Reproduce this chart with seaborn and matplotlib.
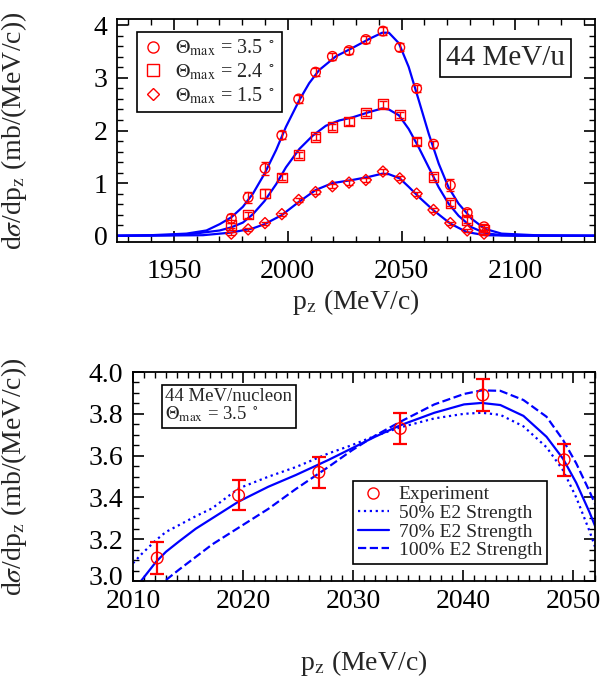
import numpy as np
import pandas as pd
import matplotlib
matplotlib.use("Agg")
import matplotlib.pyplot as plt
import matplotlib.transforms as mtransforms
from matplotlib.lines import Line2D
from matplotlib.ticker import MultipleLocator
import seaborn as sns

# ---------------- data: top panel ----------------
pz_data = [1975.2, 1982.6, 1990.0, 1997.4, 2004.8, 2012.2, 2019.6, 2026.9,
           2034.3, 2041.8, 2049.2, 2056.6, 2064.0, 2071.4, 2078.8, 2086.2]
sig_35 = [0.33, 0.73, 1.28, 1.91, 2.60, 3.11, 3.41, 3.52,
          3.73, 3.89, 3.58, 2.80, 1.74, 0.96, 0.44, 0.17]
err_35 = [0.08, 0.11, 0.13, 0.08, 0.07, 0.075, 0.072, 0.073,
          0.074, 0.078, 0.076, 0.06, 0.07, 0.11, 0.07, 0.06]
sig_24 = [0.20, 0.40, 0.80, 1.11, 1.53, 1.88, 2.07, 2.17,
          2.33, 2.50, 2.30, 1.79, 1.12, 0.62, 0.30, 0.12]
err_24 = [0.05, 0.06, 0.08, 0.06, 0.06, 0.06, 0.06, 0.06,
          0.06, 0.07, 0.06, 0.06, 0.06, 0.06, 0.05, 0.05]
sig_15 = [0.04, 0.12, 0.24, 0.41, 0.68, 0.83, 0.94, 1.01,
          1.06, 1.22, 1.09, 0.80, 0.49, 0.24, 0.10, 0.04]
err_15 = [0.03, 0.03, 0.03, 0.03, 0.04, 0.04, 0.04, 0.04,
          0.04, 0.04, 0.04, 0.04, 0.03, 0.03, 0.03, 0.03]

# theory curves
pz_c35 = [1925, 1940, 1955.5, 1964.3, 1970.1, 1975.2, 1980.3, 1984.7, 1989.8,
          1994.9, 1999.2, 2005.1, 2009.4, 2013.8, 2021.1, 2028.4, 2035.7,
          2041.5, 2044.4, 2048.8, 2053.1, 2057.5, 2061.9, 2066.3, 2070.6,
          2075.0, 2080.8, 2086.6, 2093.9, 2108.5, 2135]
c35 = [0.0, 0.01, 0.04, 0.10, 0.22, 0.35, 0.55, 0.80, 1.18,
       1.63, 2.07, 2.58, 2.90, 3.15, 3.41, 3.57, 3.74,
       3.86, 3.86, 3.66, 3.21, 2.58, 1.94, 1.37, 0.92,
       0.61, 0.32, 0.13, 0.04, 0.01, 0.0]
pz_c24 = [1925, 1940, 1955.5, 1970.1, 1975.2, 1980.3, 1984.7, 1989.8, 1994.9,
          1999.2, 2005.1, 2010.9, 2016.7, 2022.5, 2028.4, 2035.7, 2041.5,
          2044.4, 2048.8, 2053.1, 2057.5, 2061.9, 2066.3, 2070.6, 2075.0,
          2080.8, 2086.6, 2093.9, 2110, 2135]
c24 = [0.0, 0.005, 0.02, 0.10, 0.16, 0.25, 0.41, 0.66, 0.98,
       1.30, 1.65, 1.90, 2.09, 2.19, 2.25, 2.35, 2.42,
       2.40, 2.29, 2.03, 1.68, 1.30, 0.92, 0.61, 0.38,
       0.16, 0.05, 0.01, 0.0, 0.0]
pz_c15 = [1925, 1945, 1962.8, 1975.2, 1984.7, 1989.8, 1997.3, 2004.8, 2012.3,
          2019.6, 2028.4, 2035.7, 2041.5, 2044.4, 2049.2, 2053.1, 2057.5,
          2063.8, 2071.4, 2078.6, 2086.6, 2100, 2135]
c15 = [0.0, 0.003, 0.01, 0.06, 0.14, 0.22, 0.39, 0.64, 0.87,
       1.00, 1.06, 1.12, 1.18, 1.17, 1.09, 0.93, 0.74,
       0.49, 0.23, 0.07, 0.01, 0.0, 0.0]

# ---------------- data: bottom panel ----------------
pz_exp = [2012.2, 2019.6, 2026.9, 2034.3, 2041.8, 2049.2]
sig_exp = [3.11, 3.41, 3.52, 3.73, 3.89, 3.58]
err_exp = [0.075, 0.072, 0.073, 0.074, 0.078, 0.076]

pz_e2 = [2010.0, 2010.8, 2012.1, 2013.0, 2014.2, 2015.7, 2017.2, 2019.6,
         2022.3, 2024.8, 2027.8, 2029.9, 2032.0, 2034.3, 2037.4, 2040.1,
         2041.7, 2043.4, 2045.5, 2047.6, 2049.1, 2050.3, 2051.5, 2052.5]
e2_50 = [3.085, 3.13, 3.196, 3.235, 3.268, 3.31, 3.348, 3.443,
         3.499, 3.545, 3.611, 3.65, 3.694, 3.735, 3.778, 3.800,
         3.805, 3.795, 3.74, 3.64, 3.53, 3.40, 3.24, 3.09]
e2_70 = [2.96, 3.005, 3.092, 3.14, 3.19, 3.25, 3.30, 3.38,
         3.451, 3.507, 3.58, 3.635, 3.69, 3.745, 3.805, 3.845,
         3.852, 3.842, 3.79, 3.69, 3.585, 3.47, 3.33, 3.20]
e2_100 = [2.85, 2.92, 2.97, 3.005, 3.055, 3.115, 3.175, 3.255,
          3.345, 3.44, 3.547, 3.625, 3.695, 3.762, 3.845, 3.895,
          3.912, 3.91, 3.866, 3.786, 3.675, 3.563, 3.43, 3.31]

# ---------------- style ----------------
sns.set_theme(style="ticks")
plt.rcParams["font.family"] = ["Liberation Serif", "DejaVu Serif"]
plt.rcParams["mathtext.fontset"] = "stix"
plt.rcParams["axes.linewidth"] = 1.3

RED = "#ff0000"
BLUE = "#0000ff"

fig = plt.figure(figsize=(6.03, 6.87), dpi=100)
ax1 = fig.add_axes([0.194, 0.6477, 0.793, 0.3246])
ax2 = fig.add_axes([0.2206, 0.1543, 0.766, 0.3042])


def style_axis(ax, xpad, ypad):
    ax.tick_params(which="both", direction="in", top=True, right=True,
                   colors="black", labelsize=20)
    ax.tick_params(which="major", length=8, width=1.2)
    ax.tick_params(which="minor", length=4, width=1.0)
    ax.tick_params(axis="x", which="major", pad=xpad)
    ax.tick_params(axis="y", which="major", pad=ypad)
    for s in ax.spines.values():
        s.set_color("black")
        s.set_linewidth(1.3)


# ---------------- top panel ----------------
for px, c in [(pz_c35, c35), (pz_c24, c24), (pz_c15, c15)]:
    sns.lineplot(data=pd.DataFrame({"pz": px, "s": c}), x="pz", y="s", ax=ax1,
                 color=BLUE, lw=1.6, sort=False, estimator=None)

for y, e, m in [(sig_35, err_35, "o"), (sig_24, err_24, "s"), (sig_15, err_15, "D")]:
    ax1.errorbar(pz_data, y, yerr=e, fmt="none", ecolor=RED, elinewidth=1.0,
                 capsize=3, capthick=1.0, zorder=3)
    sns.scatterplot(x=pz_data, y=y, ax=ax1, marker=m, s=48 if m != "D" else 32,
                    fc="none", ec=RED, linewidth=1.0, zorder=4)

ax1.set_xlim(1925, 2135)
ax1.set_ylim(-0.12, 4.12)
ax1.xaxis.set_major_locator(MultipleLocator(50))
ax1.xaxis.set_minor_locator(MultipleLocator(10))
ax1.yaxis.set_major_locator(MultipleLocator(1))
ax1.yaxis.set_minor_locator(MultipleLocator(0.2))
style_axis(ax1, 12, 7)
ax1.set_xlabel(r"p$_{\rm z}$ (MeV/c)", fontsize=20)
ax1.set_ylabel(r"d$\sigma$/dp$_{\rm z}$ (mb/(MeV/c))", fontsize=20)
ax1.xaxis.set_label_coords(0.5, -0.20)
ax1.yaxis.set_label_coords(-0.185, 0.5)

h1 = [Line2D([], [], ls="none", marker="o", mfc="none", mec=RED, ms=8),
      Line2D([], [], ls="none", marker="s", mfc="none", mec=RED, ms=8),
      Line2D([], [], ls="none", marker="D", mfc="none", mec=RED, ms=6)]
l1 = [r"$\Theta_{\rm max}$ = 3.5 $^\circ$", r"$\Theta_{\rm max}$ = 2.4 $^\circ$",
      r"$\Theta_{\rm max}$ = 1.5 $^\circ$"]
leg1 = ax1.legend(h1, l1, loc="upper left", bbox_to_anchor=(0.042, 0.942),
                  fontsize=14.5, frameon=True, fancybox=False, framealpha=1,
                  edgecolor="black", handlelength=1.0, handletextpad=0.6,
                  borderpad=0.3, labelspacing=0.15, borderaxespad=0)
leg1.get_frame().set_linewidth(1.2)
ax1.text(0.812, 0.825, "44 MeV/u", transform=ax1.transAxes, fontsize=21,
         ha="center", va="center",
         bbox=dict(boxstyle="square,pad=0.2", fc="white", ec="black", lw=1.2))

# ---------------- bottom panel ----------------
for c, ls in [(e2_50, ":"), (e2_70, "-"), (e2_100, "--")]:
    sns.lineplot(data=pd.DataFrame({"pz": pz_e2, "s": c}), x="pz", y="s", ax=ax2,
                 color=BLUE, lw=1.6, ls=ls, sort=False, estimator=None)
ax2.errorbar(pz_exp, sig_exp, yerr=err_exp, fmt="none", ecolor=RED,
             elinewidth=1.6, capsize=5, capthick=1.6, zorder=3)
sns.scatterplot(x=pz_exp, y=sig_exp, ax=ax2, marker="o", s=70, fc="none",
                ec=RED, linewidth=1.0, zorder=4)

ax2.set_xlim(2010, 2052)
ax2.set_ylim(3.0, 4.0)
ax2.xaxis.set_major_locator(MultipleLocator(10))
ax2.xaxis.set_minor_locator(MultipleLocator(1))
ax2.yaxis.set_major_locator(MultipleLocator(0.2))
ax2.yaxis.set_minor_locator(MultipleLocator(0.05))
ax2.yaxis.set_major_formatter(plt.FuncFormatter(lambda v, _: f"{v:.1f}"))
style_axis(ax2, 6, 7)
ax2.set_xlabel(r"p$_{\rm z}$ (MeV/c)", fontsize=20)
ax2.set_ylabel(r"d$\sigma$/dp$_{\rm z}$ (mb/(MeV/c))", fontsize=20)
ax2.xaxis.set_label_coords(0.5, -0.32)
ax2.yaxis.set_label_coords(-0.225, 0.5)

h2 = [Line2D([], [], ls="none", marker="o", mfc="none", mec=RED, ms=8),
      Line2D([], [], color=BLUE, ls=":", lw=1.6),
      Line2D([], [], color=BLUE, ls="-", lw=1.6),
      Line2D([], [], color=BLUE, ls="--", lw=1.6)]
l2 = ["Experiment", "50% E2 Strength", "70% E2 Strength", "100% E2 Strength"]
leg2 = ax2.legend(h2, l2, loc="lower right", bbox_to_anchor=(0.896, 0.081),
                  fontsize=14, frameon=True, fancybox=False, framealpha=1,
                  edgecolor="black", handlelength=1.6, handletextpad=0.5,
                  borderpad=0.25, labelspacing=0.05, borderaxespad=0)
leg2.get_frame().set_linewidth(1.2)
ax2.text(0.07, 0.925, "44 MeV/nucleon\n" + r"$\Theta_{\rm max}$ = 3.5 $^\circ$",
         transform=ax2.transAxes, fontsize=13.5, ha="left", va="top",
         linespacing=1.0,
         bbox=dict(boxstyle="square,pad=0.2", fc="white", ec="black", lw=1.2))

# lift the lowest y tick label a little so it clears the "2010" label
fig.canvas.draw()
for t in ax2.yaxis.get_major_ticks():
    if abs(t.get_loc() - 3.0) < 1e-6:
        t.label1.set_transform(t.label1.get_transform() +
                               mtransforms.ScaledTranslation(0, 4 / 72, fig.dpi_scale_trans))

fig.savefig("out.png", dpi=100)
